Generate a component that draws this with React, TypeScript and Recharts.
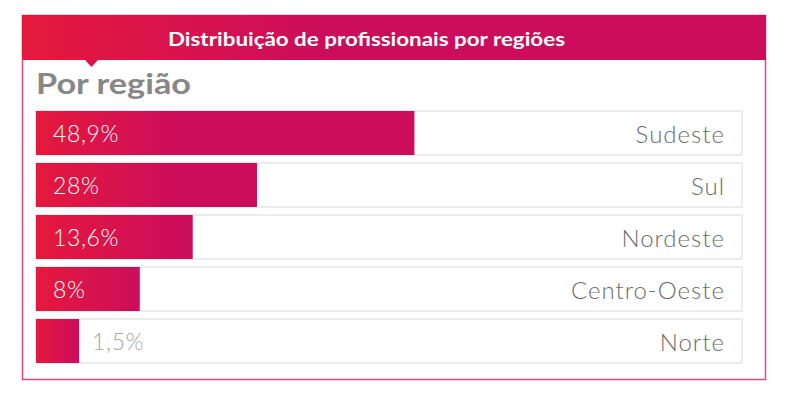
import { BarChart, Bar, XAxis, YAxis, LabelList } from "recharts"

const regions = ["Sudeste", "Sul", "Nordeste", "Centro-Oeste", "Norte"]
const shares = [48.9, 28, 13.6, 8, 1.5]
// lengths of the bars as drawn in the source, in % of the row track
const barLengths = [53.6, 31.3, 22.2, 14.7, 6.1]

const W = 791
const H = 399
const MARGIN = { top: 107, right: 49, bottom: 32, left: 36 }
const RED = "#e5193d"
const MAGENTA = "#cc0d5b"

const data = regions.map((region, i) => ({
  region,
  share: shares[i],
  length: barLengths[i],
}))

const fmt = (v: number) => `${String(v).replace(".", ",")}%`

function GradientBar(props: any) {
  const { x, y, width, height, index } = props
  if (!width || width <= 0) return null
  const id = `barGrad${index}`
  return (
    <g>
      <defs>
        <linearGradient id={id} gradientUnits="userSpaceOnUse" x1={x} y1={0} x2={x + Math.min(width, 140)} y2={0}>
          <stop offset="0" stopColor={RED} />
          <stop offset="1" stopColor={MAGENTA} />
        </linearGradient>
      </defs>
      <rect x={x} y={y} width={width} height={height} fill={`url(#${id})`} />
    </g>
  )
}

function ValueLabel(props: any) {
  const { x, y, width, height, index } = props
  const inside = width > 60
  return (
    <text
      x={inside ? x + 17 : x + width + 13}
      y={y + height / 2}
      dominantBaseline="central"
      fill={inside ? "#ffffff" : "#a6a6a6"}
      fontSize={23}
      fontWeight={300}
      letterSpacing={0.6}
      fontFamily="Lato, 'Open Sans', sans-serif"
    >
      {fmt(shares[index])}
    </text>
  )
}

function RegionLabel(props: any) {
  const { y, height, index } = props
  return (
    <text
      x={W - MARGIN.right - 17}
      y={y + height / 2}
      textAnchor="end"
      dominantBaseline="central"
      fill="#6b6b6b"
      fontSize={24}
      fontWeight={300}
      letterSpacing={1}
      fontFamily="Lato, 'Open Sans', sans-serif"
    >
      {regions[index]}
    </text>
  )
}

export default function App() {
  return (
    <div style={{ position: "absolute", left: 0, top: 0, width: W, height: H, background: "#fff" }}>
      <svg width={W} height={H} style={{ position: "absolute", left: 0, top: 0 }}>
        <defs>
          <linearGradient id="headGrad" gradientUnits="userSpaceOnUse" x1={22} y1={0} x2={320} y2={0}>
            <stop offset="0" stopColor={RED} />
            <stop offset="1" stopColor={MAGENTA} />
          </linearGradient>
        </defs>
        <rect x={22.5} y={15.5} width={743} height={364} fill="#fff" stroke="#e8467a" strokeWidth={1.5} />
        <rect x={22} y={15} width={744} height={45} fill="url(#headGrad)" />
        <polygon points="85,60 98,60 91.5,67" fill="#d8134d" />
        <text
          x={168}
          y={38}
          dominantBaseline="central"
          fill="#fff"
          fontSize={19}
          fontWeight={700}
          fontFamily="Lato, 'Open Sans', sans-serif"
          textLength={397}
          lengthAdjust="spacingAndGlyphs"
        >
          Distribuição de profissionais por regiões
        </text>
        <text
          x={36}
          y={94}
          fill="#878787"
          fontSize={28}
          fontWeight={700}
          fontFamily="Lato, 'Open Sans', sans-serif"
          textLength={155}
          lengthAdjust="spacingAndGlyphs"
        >
          Por região
        </text>
      </svg>
      <div style={{ position: "absolute", left: 0, top: 0 }}>
        <BarChart width={W} height={H} data={data} layout="vertical" margin={MARGIN} barSize={44}>
          <XAxis type="number" domain={[0, 100]} hide />
          <YAxis type="category" dataKey="region" hide />
          <Bar
            dataKey="length"
            isAnimationActive={false}
            background={{ fill: "#fff", stroke: "#e6e6e6", strokeWidth: 1.5 }}
            shape={<GradientBar />}
          >
            <LabelList dataKey="share" content={<ValueLabel />} />
            <LabelList dataKey="region" content={<RegionLabel />} />
          </Bar>
        </BarChart>
      </div>
    </div>
  )
}
